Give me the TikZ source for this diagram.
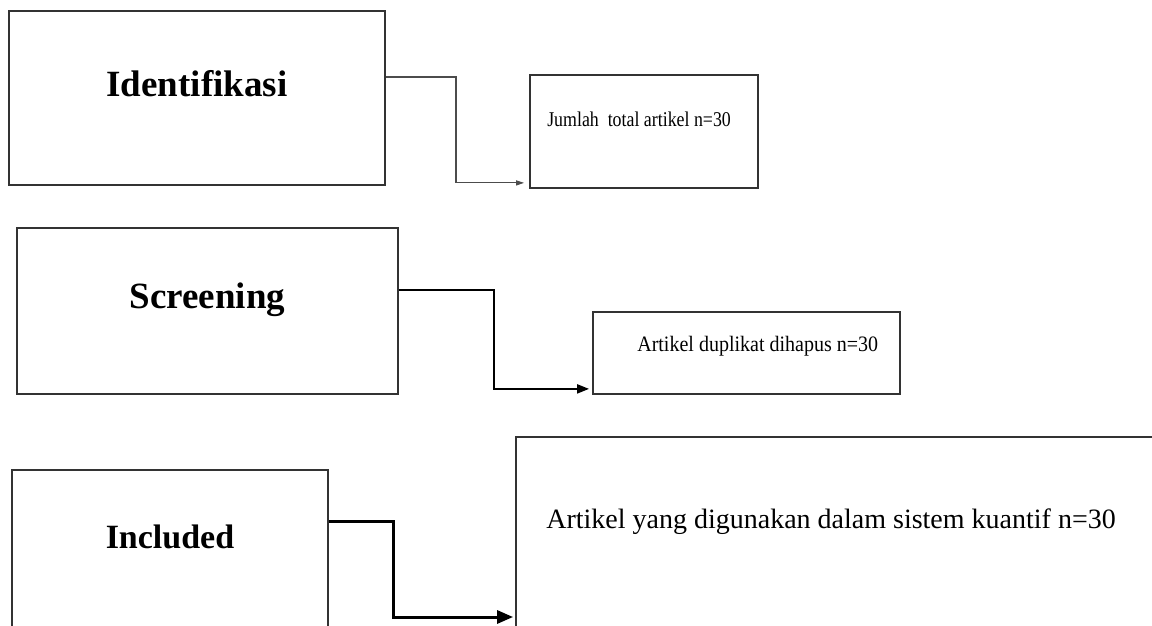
\documentclass[tikz,border=0pt]{standalone}
\usepackage{fontspec}
\setmainfont{Liberation Serif}
\usetikzlibrary{arrows.meta}

\begin{document}
\begin{tikzpicture}[x=1pt, y=1pt,
	tahap/.style={draw=black!80, line width=1.8pt, inner sep=0pt},
	judul/.style={font=\fontsize{37}{40}\selectfont\bfseries, inner sep=0pt, anchor=base},
	isi/.style={font=\fontsize{20}{24}\selectfont, inner sep=0pt, anchor=base west}]
			\useasboundingbox (0,0) rectangle (1152,625);
			\clip (0,0) rectangle (1152,625);
			\fill[white] (0,0) rectangle (1152,625);
			
			\node[tahap, minimum width=376pt, minimum height=174pt] (idf) at (197,527) {};
			\node[tahap, minimum width=381pt, minimum height=166pt] (scr) at (207.5,314) {};
			\node[tahap, minimum width=316pt, minimum height=260pt] (inc) at (170,25) {};
			
			\node[judul] (tidf) at ([yshift=-86pt]idf.north) {Identifikasi};
			\node[judul] (tscr) at ([yshift=-81pt]scr.north) {Screening};
			\node[judul, font=\fontsize{34}{40}\selectfont\bfseries] (tinc) at ([yshift=-79pt]inc.north) {Included};
			
			\node[tahap, minimum width=228pt, minimum height=113pt] (jml) at (644,493.5) {};
			\node[tahap, minimum width=307pt, minimum height=82pt] (dup) at (746.5,272) {};
			\node[tahap, minimum width=784pt, minimum height=263pt] (art) at (908,56.5) {};
			
			\node[isi, font=\fontsize{21}{24}\selectfont\addfontfeatures{FakeStretch=0.85}] (tjml) at ([shift={(18pt,-52pt)}]jml.north west) {Jumlah\ \ total artikel n=30};
			\node[isi, font=\fontsize{22}{26}\selectfont\addfontfeatures{FakeStretch=0.91}] (tdup) at ([shift={(45pt,-40pt)}]dup.north west) {Artikel duplikat dihapus n=30};
			\node[isi, font=\fontsize{28}{32}\selectfont] (tart) at ([shift={(31pt,-92pt)}]art.north west) {Artikel yang digunakan dalam sistem kuantif n=30};
			
			\draw[black!70, line width=1.2pt, -{Triangle[length=8pt, width=5pt]}] ([yshift=21pt]idf.east) -- ++(70,0) |- ([shift={(-5pt,6pt)}]jml.south west);
			\draw[black, line width=2pt, -{Triangle[length=12pt, width=9pt]}] ([yshift=21pt]scr.east) -- ++(95,0) |- ([shift={(-3pt,6pt)}]dup.south west);
			\draw[black, line width=3pt, -{Triangle[length=16pt, width=13pt]}] ([yshift=79pt]inc.east) -- ++(65,0) |- ([shift={(-2pt,-48.5pt)}]art.west);
		\end{tikzpicture}
\end{document}
